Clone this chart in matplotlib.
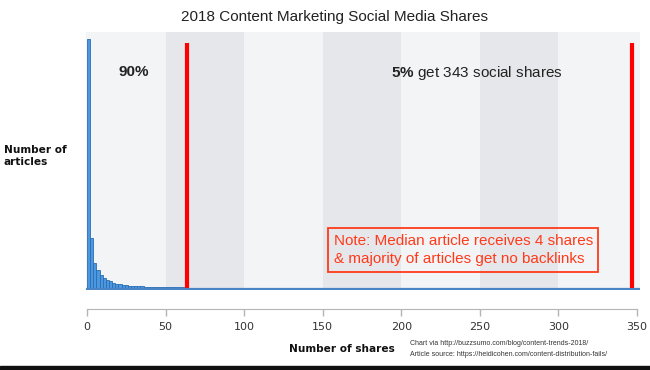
import numpy as np
import matplotlib.pyplot as plt
from matplotlib.patches import Rectangle

plt.rcParams['mathtext.fontset'] = 'custom'
plt.rcParams['mathtext.rm'] = 'Liberation Sans'
plt.rcParams['mathtext.bf'] = 'Liberation Sans:bold'

# figure data
bin_left = np.arange(0, 64, 2)
article_counts = [250, 51, 26, 19, 14, 11, 9, 7.5, 6, 5, 4.2, 3.6, 3.2, 3, 2.7, 2.5,
                  2.3, 2.1, 2, 1.9, 1.8, 1.7, 1.6, 1.5, 1.4, 1.3, 1.3, 1.2, 1.2, 1.1, 1.1, 1]
band_starts = [0, 50, 100, 150, 200, 250, 300]
red_lines = [63.5, 347]
xticks = [0, 50, 100, 150, 200, 250, 300, 350]

W, H = 650, 370
fig = plt.figure(figsize=(W / 100, H / 100), dpi=100)
ax = fig.add_axes([85.5 / W, 1 - 290 / H, (640 - 85.5) / W, (290 - 32) / H])

band_colors = ['#f3f4f6', '#e6e7ea']
for i, b in enumerate(band_starts):
    ax.axvspan(b, b + 50, color=band_colors[i % 2], lw=0, zorder=0)
ax.axvspan(350, 352, color=band_colors[0], lw=0, zorder=0)
ax.axvspan(-1, 0, color=band_colors[0], lw=0, zorder=0)

ax.bar(bin_left, article_counts, width=2, align='edge', color='#4b97e0',
       edgecolor='#2c6db3', linewidth=0.6, zorder=2)
ax.axhline(0, color='#4a86c5', lw=1.6, zorder=3)
for x in red_lines:
    ax.plot([x, x], [1, 245.5], color='#ff0000', lw=3, solid_capstyle='butt', zorder=4)

ax.set_xlim(-1, 352)
ax.set_ylim(-1.5, 256.5)
ax.set_yticks([])
for s in ['top', 'right', 'left']:
    ax.spines[s].set_visible(False)
ax.spines['bottom'].set_position(('outward', 13.7))
ax.spines['bottom'].set_color('#b5b5b5')
ax.spines['bottom'].set_bounds(0, 350)
ax.set_xticks(xticks)
ax.tick_params(axis='x', colors='#b5b5b5', length=5, width=1, labelsize=8,
               labelcolor='#333333', pad=4)

sans = 'Liberation Sans'
ax.text(30, 216, '90%', fontsize=11, fontweight='bold', family=sans,
        ha='center', va='center', color='#222222')
ax.text(193.5, 216, r'$\bf{5\%}$ get 343 social shares', fontsize=11, family=sans,
        ha='left', va='center', color='#222222')

ax.text(157, 38.5, 'Note: Median article receives 4 shares\n& majority of articles get no backlinks',
        fontsize=11, family=sans, color='#ff3a1a', ha='left', va='center',
        linespacing=1.45,
        bbox=dict(boxstyle='square,pad=0.35', fc='none', ec='#ff3a1a', lw=1.3))

fig.text(335 / W, 1 - 17 / H, '2018 Content Marketing Social Media Shares',
         fontsize=11, family=sans, ha='center', va='center', color='#222222')
fig.text(4 / W, 1 - 156 / H, 'Number of\narticles', fontsize=7.6, fontweight='bold',
         ha='left', va='center', linespacing=1.2, color='#111111')
fig.text(342 / W, 1 - 349 / H, 'Number of shares', fontsize=7.6, fontweight='bold',
         ha='center', va='center', color='#111111')
fig.text(410 / W, 1 - 349 / H,
         'Chart via http://buzzsumo.com/blog/content-trends-2018/\n'
         'Article source: https://heidicohen.com/content-distribution-fails/',
         fontsize=5, family=sans, ha='left', va='center', linespacing=1.75,
         color='#333333')

fig.patches.append(Rectangle((0, 0), 1, 4 / H, transform=fig.transFigure,
                             color='#111111', zorder=10))

fig.savefig('out.png', dpi=100)
